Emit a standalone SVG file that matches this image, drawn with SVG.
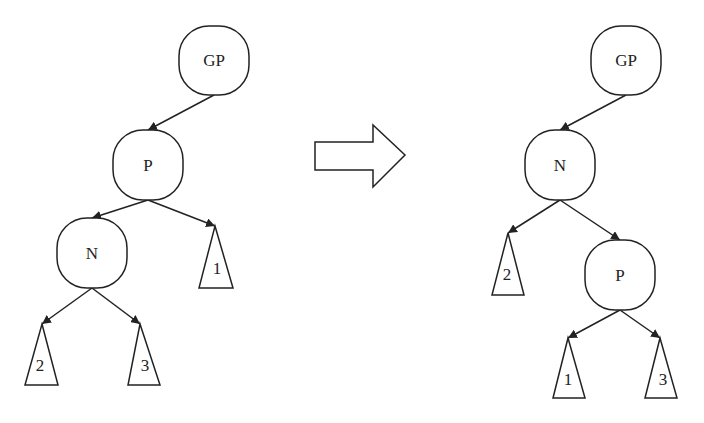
<svg xmlns="http://www.w3.org/2000/svg" width="704" height="423" viewBox="0 0 704 423">
<defs>
<style>
.n{fill:#fff;stroke:#222;stroke-width:1.5}
.t{font-family:"Liberation Serif",serif;font-size:17px;fill:#222;text-anchor:middle}
.c line{stroke:#222;stroke-width:1.5;marker-end:url(#a)}
</style>
<marker id="a" viewBox="0 0 10 10" refX="10" refY="5" markerWidth="9" markerHeight="9" markerUnits="userSpaceOnUse" orient="auto"><path d="M0,0 L10,5 L0,10 z" fill="#222"/></marker>
</defs>
<rect width="704" height="423" fill="#fff"/>
<g class="c">
<line x1="214" y1="95" x2="148" y2="130"/>
<line x1="148" y1="200" x2="92" y2="218"/>
<line x1="148" y1="200" x2="215" y2="226"/>
<line x1="92" y1="288" x2="42" y2="324"/>
<line x1="92" y1="288" x2="140" y2="324"/>
<line x1="626" y1="95" x2="560" y2="130"/>
<line x1="560" y1="200" x2="508" y2="233"/>
<line x1="560" y1="200" x2="620" y2="240"/>
<line x1="620" y1="310" x2="568" y2="338"/>
<line x1="620" y1="310" x2="660" y2="338"/>
</g>
<g id="gp1"><rect class="n" x="179" y="26" width="70" height="69" rx="30"/><text class="t" x="214" y="66">GP</text></g>
<g id="p1"><rect class="n" x="113" y="130" width="70" height="70" rx="30"/><text class="t" x="148" y="171">P</text></g>
<g id="n1"><rect class="n" x="57" y="218" width="70" height="70" rx="30"/><text class="t" x="92" y="259">N</text></g>
<g id="t1"><polygon class="n" points="215,226 233,288 199,288"/><text class="t" x="217" y="274">1</text></g>
<g id="t2"><polygon class="n" points="42,324 58,385 25,385"/><text class="t" x="40" y="371">2</text></g>
<g id="t3"><polygon class="n" points="140,324 160,385 128,385"/><text class="t" x="145" y="371">3</text></g>
<g id="arrow"><polygon class="n" points="315,142 373,142 373,125 405,155 373,187 373,170 315,170"/></g>
<g id="gp2"><rect class="n" x="591" y="26" width="70" height="69" rx="30"/><text class="t" x="626" y="66">GP</text></g>
<g id="n2"><rect class="n" x="525" y="130" width="70" height="70" rx="30"/><text class="t" x="560" y="171">N</text></g>
<g id="p2"><rect class="n" x="585" y="240" width="70" height="70" rx="30"/><text class="t" x="620" y="281">P</text></g>
<g id="t4"><polygon class="n" points="508,233 524,295 492,295"/><text class="t" x="507" y="280">2</text></g>
<g id="t5"><polygon class="n" points="568,338 585,398 553,398"/><text class="t" x="568" y="385">1</text></g>
<g id="t6"><polygon class="n" points="660,338 677,398 645,398"/><text class="t" x="663" y="385">3</text></g>
</svg>
